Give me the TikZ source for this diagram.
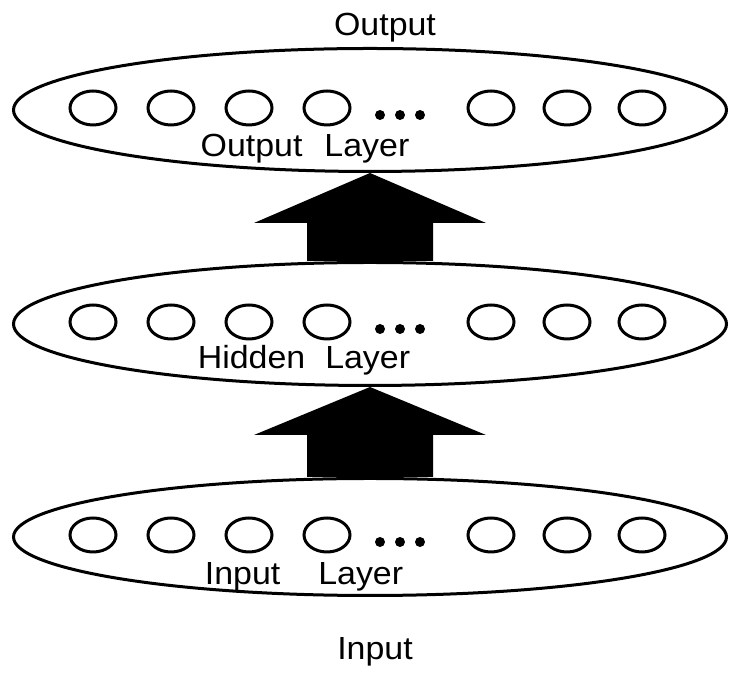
\documentclass[tikz,border=0pt]{standalone}
\usepackage{fontspec}
\setmainfont{Liberation Sans}[FakeStretch=1.06]
\usetikzlibrary{positioning,shapes.geometric,calc}

\begin{document}
\begin{tikzpicture}[x=1pt, y=1pt, line width=3pt,
    layer/.style={draw, ellipse, minimum width=713pt, minimum height=123pt, inner sep=0pt},
    unit/.style={draw, ellipse, minimum width=46pt, minimum height=34pt, inner sep=0pt},
    dot/.style={fill, circle, minimum size=10pt, inner sep=0pt, line width=0pt},
    caption/.style={anchor=base, inner sep=0pt, font=\fontsize{32}{36}\selectfont}]
  \useasboundingbox (0,0) rectangle (729,676);

  \node[layer] (outlayer) at (370,566) {};
  \node[layer, below=88pt of outlayer] (hidlayer) {};
  \node[layer, minimum height=117pt, below=90pt of hidlayer] (inlayer) {};

  % units in each layer
  \foreach \lay in {outlayer,hidlayer,inlayer} {
    \foreach \dx [count=\i] in {-277,-199,-121,-43,121,197,272}
      \node[unit] (\lay-u\i) at ([shift={(\dx pt,2pt)}]\lay.center) {};
    \foreach \dx [count=\i] in {10,30,50}
      \node[dot] (\lay-d\i) at ([shift={(\dx pt,-5pt)}]\lay.center) {};
  }

  \node[caption] (outcap) at ([shift={(-65pt,-47pt)}]outlayer.center) {Output\hspace{22pt}Layer};
  \node[caption] (hidcap) at ([shift={(-66pt,-45pt)}]hidlayer.center) {Hidden\hspace{20pt}Layer};
  \node[caption] (incap)  at ([shift={(-66pt,-48pt)}]inlayer.center) {Input\hspace{38pt}Layer};
  \node[caption] (output) at ([shift={(15pt,74pt)}]outlayer.center) {Output};
  \node[caption] (input)  at ([shift={(5pt,-123pt)}]inlayer.center) {Input};

  % block arrows between layers
  \fill (hidlayer.north) ++(-63,0) -- ++(0,38) -- ++(-53,0) -- (outlayer.south)
        -- ($(hidlayer.north)+(116,38)$) -- ++(-53,0) -- ++(0,-38) -- cycle;
  \fill (inlayer.north) ++(-63,0) -- ++(0,42) -- ++(-53,0) -- (hidlayer.south)
        -- ($(inlayer.north)+(116,42)$) -- ++(-53,0) -- ++(0,-42) -- cycle;
\end{tikzpicture}
\end{document}
